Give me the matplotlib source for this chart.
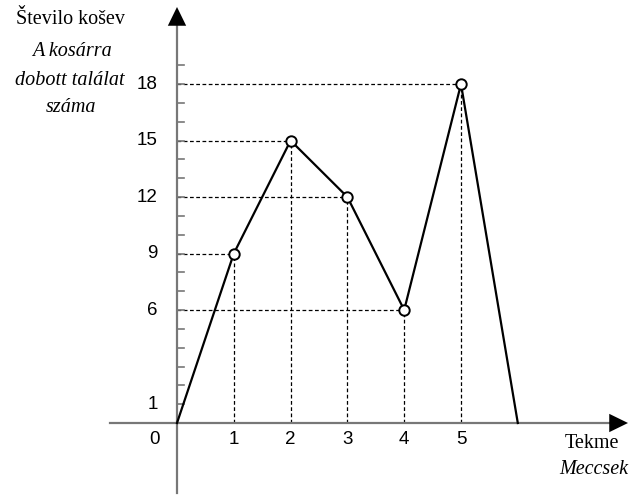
import matplotlib.pyplot as plt

# data
games = [0, 1, 2, 3, 4, 5, 6]
baskets = [0, 9, 15, 12, 6, 18, 0]
marked_x = [1, 2, 3, 4, 5]
marked_y = [9, 15, 12, 6, 18]
y_labels = [1, 6, 9, 12, 15, 18]
x_labels = [1, 2, 3, 4, 5]

W, H = 629, 495
ox, oy = 177, 423          # origin in pixels
sx, sy = 56.8, 18.83       # pixels per unit

fig = plt.figure(figsize=(W / 100, H / 100), dpi=100)
ax = fig.add_axes([0, 0, 1, 1])
ax.set_xlim(-ox / sx, (W - ox) / sx)
ax.set_ylim(-(H - oy) / sy, oy / sy)
ax.axis('off')

axis_col = '#777777'
sans = 'Liberation Sans'
serif = 'Liberation Serif'

def px(x):
    return (x - ox) / sx

def py(y):
    return (oy - y) / sy

# axes lines with arrows
ax.plot([px(110), px(615)], [0, 0], color=axis_col, lw=1.6, zorder=2)
ax.plot([0, 0], [py(493), py(22)], color=axis_col, lw=1.6, zorder=2)
ax.annotate('', xy=(px(628), 0), xytext=(px(610), 0),
            arrowprops=dict(arrowstyle='-|>,head_length=0.45,head_width=0.22',
                            color='black', lw=0, mutation_scale=30,
                            shrinkA=0, shrinkB=0))
ax.annotate('', xy=(0, py(7)), xytext=(0, py(26)),
            arrowprops=dict(arrowstyle='-|>,head_length=0.45,head_width=0.22',
                            color='black', lw=0, mutation_scale=30,
                            shrinkA=0, shrinkB=0))

# y ticks every unit
for v in range(1, 20):
    ax.plot([0, 7 / sx], [v, v], color=axis_col, lw=1.2, zorder=2)

# dashed guide lines
for x, y in zip(marked_x, marked_y):
    ax.plot([0, x], [y, y], color='black', lw=0.9, ls=(0, (3, 2)), zorder=1)
    ax.plot([x, x], [0, y], color='black', lw=0.9, ls=(0, (3, 2)), zorder=1)

# data line and markers
ax.plot(games, baskets, color='black', lw=1.6, zorder=3)
ax.plot(marked_x, marked_y, 'o', ms=7.5, mfc='white', mec='black', mew=1.4, zorder=4)

# tick labels
for v in y_labels:
    ax.text(px(158), v, str(v), ha='right', va='center', fontsize=13.5, family=sans)
ax.text(px(155), py(440), '0', ha='center', va='center', fontsize=13.5, family=sans)
for v in x_labels:
    ax.text(v, py(440), str(v), ha='center', va='center', fontsize=13.5, family=sans)

# axis titles
fs = 14.5
ax.text(px(70), py(20), 'Število košev', ha='center', va='center', fontsize=fs, family=serif)
ax.text(px(72), py(52), 'A kosárra', ha='center', va='center', fontsize=fs,
        family=serif, style='italic')
ax.text(px(70), py(81), 'dobott találat', ha='center', va='center', fontsize=fs,
        family=serif, style='italic')
ax.text(px(71), py(108), 'száma', ha='center', va='center', fontsize=fs,
        family=serif, style='italic')
ax.text(px(592), py(443), 'Tekme', ha='center', va='center', fontsize=fs, family=serif)
ax.text(px(628), py(470), 'Meccsek', ha='right', va='center', fontsize=fs,
        family=serif, style='italic')

fig.savefig('out.png', dpi=100)
